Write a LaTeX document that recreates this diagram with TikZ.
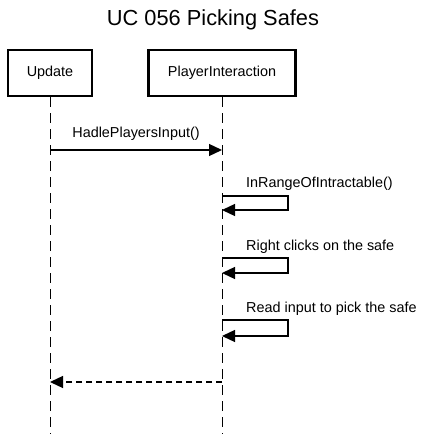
\documentclass[tikz,border=0pt]{standalone}
\usepackage{fontspec}
\setmainfont{Liberation Sans}
\usetikzlibrary{arrows.meta}
\begin{document}
\begin{tikzpicture}[x=1pt,y=-1pt,>={Triangle[length=13pt,width=12pt]},
  actor/.style={draw,line width=2.4pt,minimum height=46pt,inner sep=0pt,font=\fontsize{14.4}{17}\selectfont},
  life/.style={line width=0.9pt,dash pattern=on 10pt off 6pt},
  msg/.style={->,line width=1.3pt},
  lbl/.style={font=\fontsize{14.4}{17}\selectfont,inner sep=0pt}]
  \useasboundingbox (0,0) rectangle (426,438);
  \node[font=\fontsize{21.8}{26}\selectfont] (title) at (213,20) {UC 056 Picking Safes};
  \node[actor,minimum width=84pt] (U) at (50,73) {Update};
  \node[actor,minimum width=147pt] (P) at (222,73) {PlayerInteraction};
  \coordinate (Uend) at (50,434);
  \coordinate (Pend) at (222,434);
  \draw[life] (U) -- (Uend);
  \draw[life] (P) -- (Pend);
  % HadlePlayersInput
  \coordinate (m1a) at (50,150);
  \coordinate (m1b) at (222,150);
  \draw[msg] (m1a) -- node[lbl,above=9pt] (m1) {HadlePlayersInput()} (m1b);
  % self calls
  \coordinate (s1a) at (222,196);
  \coordinate (s1b) at (222,210);
  \draw[msg] (s1a) -- ++(66,0) |- (s1b);
  \node[lbl,anchor=west] (s1) at (246,184) {InRangeOfIntractable()};
  \coordinate (s2a) at (222,258);
  \coordinate (s2b) at (222,273);
  \draw[msg] (s2a) -- ++(66,0) |- (s2b);
  \node[lbl,anchor=west] (s2) at (246,247) {Right clicks on the safe};
  \coordinate (s3a) at (222,320);
  \coordinate (s3b) at (222,336);
  \draw[msg] (s3a) -- ++(66,0) |- (s3b);
  \node[lbl,anchor=west] (s3) at (246,309) {Read input to pick the safe};
  % return
  \coordinate (r1a) at (222,382);
  \coordinate (r1b) at (50,382);
  \draw[msg,dash pattern=on 6pt off 4pt] (r1a) -- (r1b);
\end{tikzpicture}
\end{document}
